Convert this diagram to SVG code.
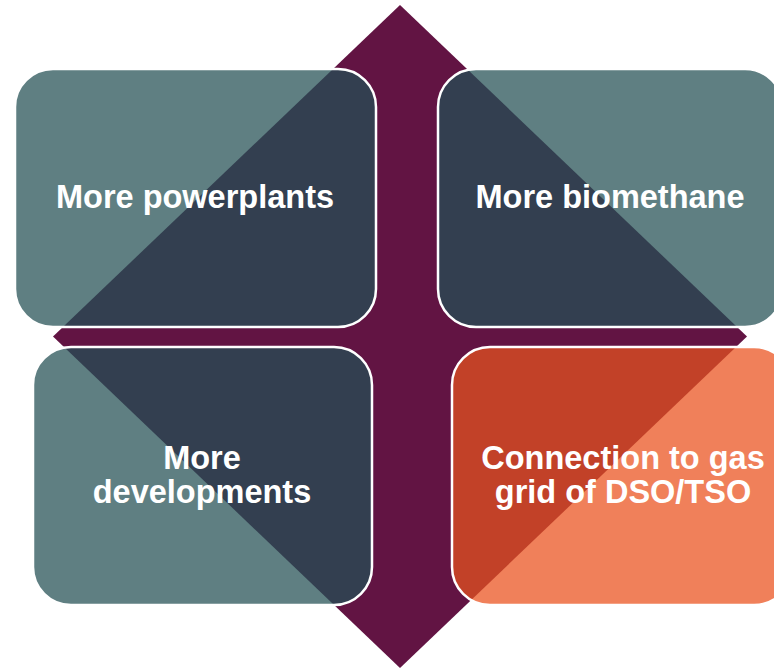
<svg xmlns="http://www.w3.org/2000/svg" width="774" height="669" viewBox="0 0 774 669">
  <defs>
    <clipPath id="diaClip">
      <polygon points="400,5 747,336.5 400,668 53,336.5"/>
    </clipPath>
    <style>
      .dia { fill: #621443; }
      .teal { fill: #5F7F82; }
      .navy { fill: #333F50; }
      .orange { fill: #F0805A; }
      .rust { fill: #C24128; }
      .edge { fill: none; stroke: #FFFFFF; stroke-width: 2.5; }
      .label { font-family: "Liberation Sans", Arial, sans-serif; font-weight: bold; font-size: 32.5px; fill: #FFFFFF; text-anchor: middle; }
    </style>
  </defs>
  <rect x="0" y="0" width="774" height="669" fill="#FFFFFF"/>
  <g id="diamond">
    <polygon class="dia" points="400,5 747,336.5 400,668 53,336.5"/>
  </g>
  <g id="node-powerplants">
    <rect class="teal" x="15" y="69" width="361" height="258" rx="38" ry="38"/>
    <rect class="navy" x="15" y="69" width="361" height="258" rx="38" ry="38" clip-path="url(#diaClip)"/>
    <rect class="edge" x="15" y="69" width="361" height="258" rx="38" ry="38"/>
    <text class="label" x="195" y="208">More powerplants</text>
  </g>
  <g id="node-biomethane">
    <rect class="teal" x="438" y="69" width="345" height="258" rx="38" ry="38"/>
    <rect class="navy" x="438" y="69" width="345" height="258" rx="38" ry="38" clip-path="url(#diaClip)"/>
    <rect class="edge" x="438" y="69" width="345" height="258" rx="38" ry="38"/>
    <text class="label" x="610" y="208">More biomethane</text>
  </g>
  <g id="node-developments">
    <rect class="teal" x="33" y="347" width="339" height="258" rx="38" ry="38"/>
    <rect class="navy" x="33" y="347" width="339" height="258" rx="38" ry="38" clip-path="url(#diaClip)"/>
    <rect class="edge" x="33" y="347" width="339" height="258" rx="38" ry="38"/>
    <text class="label" x="202" y="469">More</text>
    <text class="label" x="202" y="503">developments</text>
  </g>
  <g id="node-connection">
    <rect class="orange" x="452" y="347" width="340" height="258" rx="38" ry="38"/>
    <rect class="rust" x="452" y="347" width="340" height="258" rx="38" ry="38" clip-path="url(#diaClip)"/>
    <rect class="edge" x="452" y="347" width="340" height="258" rx="38" ry="38"/>
    <text class="label" x="623" y="469">Connection to gas</text>
    <text class="label" x="623" y="503">grid of DSO/TSO</text>
  </g>
  <g id="connectors"></g>
</svg>
